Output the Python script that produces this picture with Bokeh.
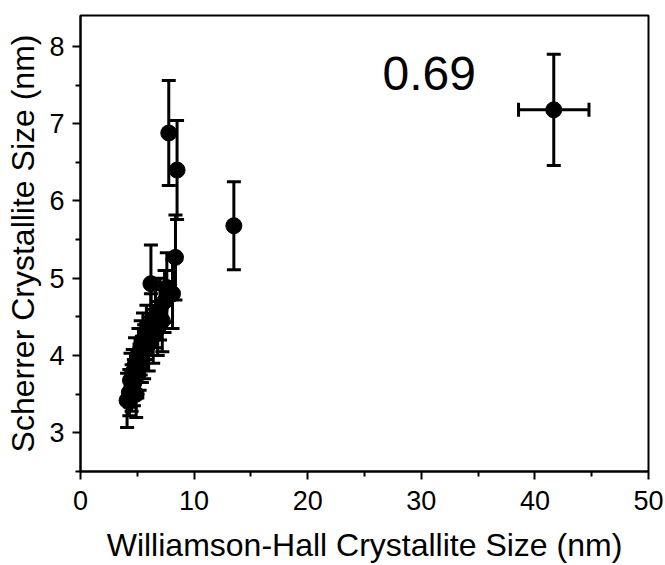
from bokeh.plotting import figure
from bokeh.models import ColumnDataSource, Whisker, TeeHead, Label, FixedTicker
from bokeh.embed import file_html
from bokeh.resources import INLINE

# Williamson-Hall size (x), Scherrer size (y), y error, x error
wh_size = [4.1, 4.3, 4.4, 4.5, 4.6, 4.7, 4.8, 4.9, 5.0, 5.1, 5.2, 5.3, 5.4, 5.5, 5.6,
           5.8, 6.0, 6.2, 6.4, 6.6, 6.8, 7.0, 7.2, 7.4, 7.6, 8.1, 6.2, 8.36, 8.5, 7.77, 13.5, 41.66]
scherrer_size = [3.42, 3.52, 3.68, 3.58, 3.78, 3.65, 3.88, 3.5, 3.75, 4.0, 3.85, 4.1, 3.95, 4.2, 4.05,
                 4.3, 4.15, 4.4, 4.25, 4.5, 4.35, 4.6, 4.45, 4.7, 4.88, 4.8, 4.93, 5.27, 6.4, 6.88, 5.68, 7.18]
scherrer_err = [0.35, 0.3, 0.35, 0.3, 0.3, 0.3, 0.35, 0.3, 0.3, 0.35, 0.3, 0.35, 0.3, 0.35, 0.35,
                0.35, 0.35, 0.4, 0.35, 0.4, 0.35, 0.4, 0.4, 0.4, 0.45, 0.45, 0.5, 0.55, 0.64, 0.68, 0.57, 0.72]
wh_err = [0] * 31 + [3.1]
corr_text = "0.69"

src = ColumnDataSource(dict(
    x=wh_size, y=scherrer_size,
    yl=[a - b for a, b in zip(scherrer_size, scherrer_err)],
    yu=[a + b for a, b in zip(scherrer_size, scherrer_err)],
))
xe = [(x, y, e) for x, y, e in zip(wh_size, scherrer_size, wh_err) if e > 0]
xsrc = ColumnDataSource(dict(
    y=[t[1] for t in xe],
    xl=[t[0] - t[2] for t in xe],
    xu=[t[0] + t[2] for t in xe],
))

FONT = "Liberation Sans"

p = figure(frame_width=568, frame_height=456, x_range=(0, 50), y_range=(2.5, 8.4),
           output_backend="svg", toolbar_location=None,
           min_border_left=80, min_border_right=17, min_border_top=15, min_border_bottom=94)
p.grid.visible = False
p.outline_line_color = "black"
p.outline_line_width = 2
p.background_fill_color = "white"
p.border_fill_color = "white"

p.xaxis.ticker = FixedTicker(ticks=[0, 10, 20, 30, 40, 50], minor_ticks=[5, 15, 25, 35, 45])
p.yaxis.ticker = FixedTicker(ticks=[3, 4, 5, 6, 7, 8], minor_ticks=[2.5, 3.5, 4.5, 5.5, 6.5, 7.5])
for ax in (p.xaxis[0], p.yaxis[0]):
    ax.axis_line_width = 2
    ax.major_tick_line_width = 2
    ax.minor_tick_line_width = 2
    ax.major_tick_out = 8
    ax.major_tick_in = 0
    ax.minor_tick_out = 5
    ax.minor_tick_in = 0
    ax.major_label_text_font = FONT
    ax.major_label_text_font_size = "27px"
    ax.major_label_text_color = "black"
    ax.axis_label_text_font = FONT
    ax.axis_label_text_font_size = "32px"
    ax.axis_label_text_font_style = "normal"
    ax.axis_label_text_color = "black"
p.xaxis.axis_label = "Williamson-Hall Crystallite Size (nm)"
p.yaxis.axis_label = "Scherrer Crystallite Size (nm)"
p.xaxis.major_label_standoff = 11
p.yaxis.major_label_standoff = 8
p.xaxis.axis_label_standoff = 14
p.yaxis.axis_label_standoff = 5

wy = Whisker(source=src, base="x", lower="yl", upper="yu", dimension="height",
             line_width=3, line_color="black",
             lower_head=TeeHead(size=14, line_width=3, line_color="black"),
             upper_head=TeeHead(size=14, line_width=3, line_color="black"))
wx = Whisker(source=xsrc, base="y", lower="xl", upper="xu", dimension="width",
             line_width=3, line_color="black",
             lower_head=TeeHead(size=14, line_width=3, line_color="black"),
             upper_head=TeeHead(size=14, line_width=3, line_color="black"))
p.add_layout(wy)
p.add_layout(wx)

p.scatter("x", "y", source=src, size=16, marker="circle", color="black")

p.add_layout(Label(x=30.7, y=7.65, text=corr_text, text_align="center", text_baseline="middle",
                   text_font=FONT, text_font_size="48px", text_color="black"))

open("out.html", "w").write(file_html(p, INLINE))
